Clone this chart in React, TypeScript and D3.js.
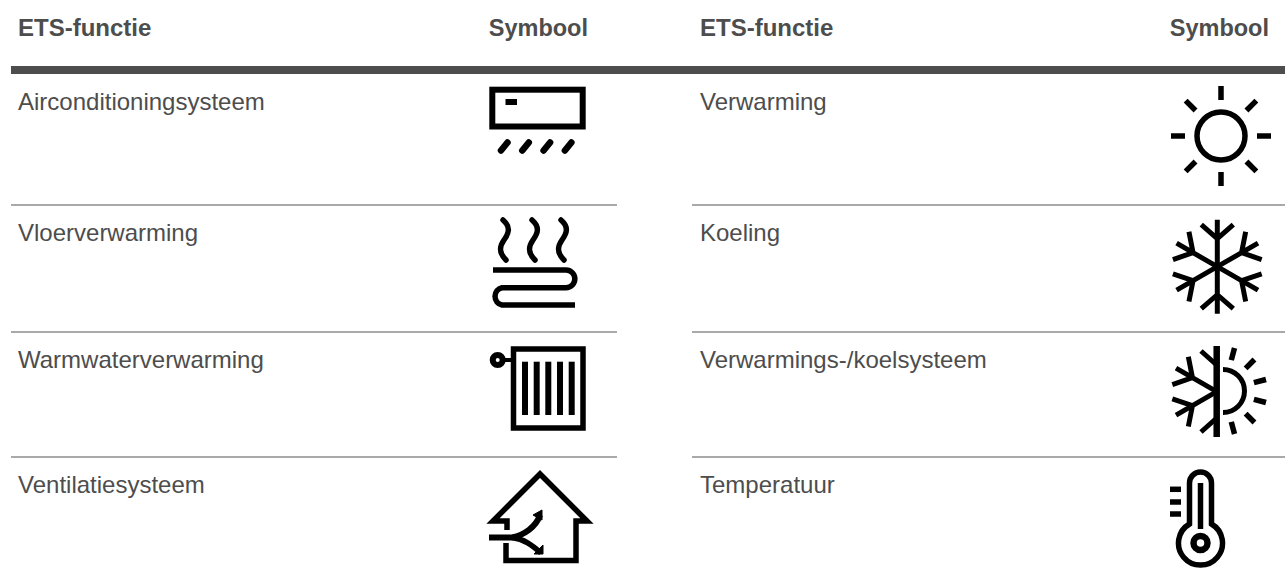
import * as d3 from 'd3'

const headerLabels = ['ETS-functie', 'Symbool']
const leftFunctions = ['Airconditioningsysteem', 'Vloerverwarming', 'Warmwaterverwarming', 'Ventilatiesysteem']
const rightFunctions = ['Verwarming', 'Koeling', 'Verwarmings-/koelsysteem', 'Temperatuur']
const rowTops = [70, 205, 330, 455]
const rowBaselines = [109.5, 241, 368, 493]
const ruleYs = [205, 332, 457]

const ink = '#000'
const textColor = '#4d4d4d'
const fontFamily = '"Liberation Sans", Arial, sans-serif'

function ray(cx: number, cy: number, deg: number, r0: number, r1: number) {
	const a = (deg * Math.PI) / 180
	const p = d3.path()
	p.moveTo(cx + r0 * Math.sin(a), cy - r0 * Math.cos(a))
	p.lineTo(cx + r1 * Math.sin(a), cy - r1 * Math.cos(a))
	return p.toString()
}

function SnowArm({ cx, cy, deg, len = 47 }: { cx: number; cy: number; deg: number; len?: number }) {
	return (
		<g transform={`translate(${cx},${cy}) rotate(${deg})`}>
			<path d={`M0 0V${-len}M-16 ${-len + 5}L0 ${-len + 19}L16 ${-len + 5}`} />
		</g>
	)
}

function AcIcon() {
	return (
		<g>
			<rect x={22.3} y={19.7} width={90.4} height={36.8} strokeWidth={6} />
			<path d="M35.5 32H47" strokeWidth={6} />
			{d3.range(4).map((i) => (
				<path key={i} d={`M${31 + i * 21.3} 80.5L${37.5 + i * 21.3} 72.5`} strokeWidth={6.5} strokeLinecap="round" />
			))}
		</g>
	)
}

function FloorIcon() {
	return (
		<g strokeWidth={5.5}>
			{[33, 62, 91].map((x) => (
				<path
					key={x}
					d={`M${x} 15C${x + 8} 22 ${x + 6} 28 ${x + 1} 35C${x - 4} 42 ${x - 4} 48 ${x + 3} 55`}
					strokeLinecap="round"
				/>
			))}
			<path d="M23 65H96A8.85 8.85 0 0 1 96 82.7H32A8.85 8.85 0 0 0 32 100H105" />
		</g>
	)
}

function RadiatorIcon() {
	return (
		<g>
			<rect x={43.5} y={19} width={69.5} height={79} strokeWidth={5.5} />
			<circle cx={27.7} cy={30} r={5} strokeWidth={6} />
			<path d="M32 30H44" strokeWidth={4} />
			{[55, 66.7, 78.3, 90, 101.7].map((x) => (
				<path key={x} d={`M${x} 31.7V85`} strokeWidth={6} />
			))}
		</g>
	)
}

function HouseIcon() {
	return (
		<g strokeWidth={5.5}>
			<path d="M37 75V66H23L70 19L117 66H106V105.5H36V88" />
			<path d="M19 82.5H42C54 80 66 72 70 60" strokeWidth={6} />
			<path d="M42 82.5C54 84 62 90 71 98" />
			<path d="M63 60L72 55L72 65Z M64 99L73 90L73 99Z" fill={ink} strokeWidth={1} />
		</g>
	)
}

function SunIcon() {
	return (
		<g>
			<circle cx={81} cy={66} r={24} strokeWidth={5.5} />
			{d3.range(0, 360, 45).map((deg) => (
				<path key={deg} d={ray(81, 66, deg, 36, 50)} strokeWidth={5.5} />
			))}
		</g>
	)
}

function SnowIcon() {
	return (
		<g strokeWidth={5}>
			{d3.range(0, 360, 60).map((deg) => (
				<SnowArm key={deg} cx={77.3} cy={61.7} deg={deg} />
			))}
		</g>
	)
}

function HeatCoolIcon() {
	return (
		<g>
			<path d="M76.7 16V107" strokeWidth={6.5} />
			<g strokeWidth={5}>
				<path d="M61 21L76.7 35M61 102L76.7 88" />
				<SnowArm cx={76.7} cy={61.7} deg={-60} />
				<SnowArm cx={76.7} cy={61.7} deg={-120} />
			</g>
			<path d="M83 39.5A21.5 21.5 0 0 1 83 82.5" strokeWidth={5} />
			{d3.range(15, 180, 30).map((deg) => (
				<path key={deg} d={ray(83, 61, deg, 32, 44.5)} strokeWidth={5.5} />
			))}
		</g>
	)
}

function ThermoIcon() {
	return (
		<g strokeWidth={5.5}>
			<path d="M49.5 69V28A11 11 0 0 1 71.5 28V69A22 22 0 1 1 49.5 69Z" />
			<path d="M60.5 28V74" />
			<circle cx={60.5} cy={88} r={7} strokeWidth={6.5} />
			{[34.3, 47, 59].map((y) => (
				<path key={y} d={`M30 ${y}H41`} />
			))}
		</g>
	)
}

const leftIcons = [AcIcon, FloorIcon, RadiatorIcon, HouseIcon]
const rightIcons = [SunIcon, SnowIcon, HeatCoolIcon, ThermoIcon]

function Column({
	names,
	icons,
	textX,
	symbolX,
	iconX,
	ruleX,
}: {
	names: string[]
	icons: (() => React.JSX.Element)[]
	textX: number
	symbolX: number
	iconX: number
	ruleX: [number, number]
}) {
	return (
		<g>
			<text x={textX} y={35.5} fontSize={24} fontWeight={700} fill={textColor}>
				{headerLabels[0]}
			</text>
			<text x={symbolX} y={35.5} fontSize={23.5} fontWeight={700} fill={textColor} textAnchor="end">
				{headerLabels[1]}
			</text>
			{names.map((name, i) => {
				const Icon = icons[i]
				return (
					<g key={name}>
						<text x={textX} y={rowBaselines[i]} fontSize={24} fill={textColor}>
							{name}
						</text>
						<g transform={`translate(${iconX},${rowTops[i]})`} fill="none" stroke={ink}>
							<Icon />
						</g>
					</g>
				)
			})}
			{ruleYs.map((y) => (
				<line key={y} x1={ruleX[0]} x2={ruleX[1]} y1={y} y2={y} stroke="#555" strokeWidth={1.2} />
			))}
		</g>
	)
}

export default function App() {
	return (
		<svg
			width={1285}
			height={579}
			viewBox="0 0 1285 579"
			fontFamily={fontFamily}
			style={{ position: 'absolute', left: 0, top: 0, background: '#fff' }}
		>
			<rect x={11} y={66} width={1274} height={8} fill="#4d4d4d" />
			<Column names={leftFunctions} icons={leftIcons} textX={18} symbolX={588} iconX={470} ruleX={[11, 617]} />
			<Column names={rightFunctions} icons={rightIcons} textX={700} symbolX={1269} iconX={1140} ruleX={[692, 1285]} />
		</svg>
	)
}
